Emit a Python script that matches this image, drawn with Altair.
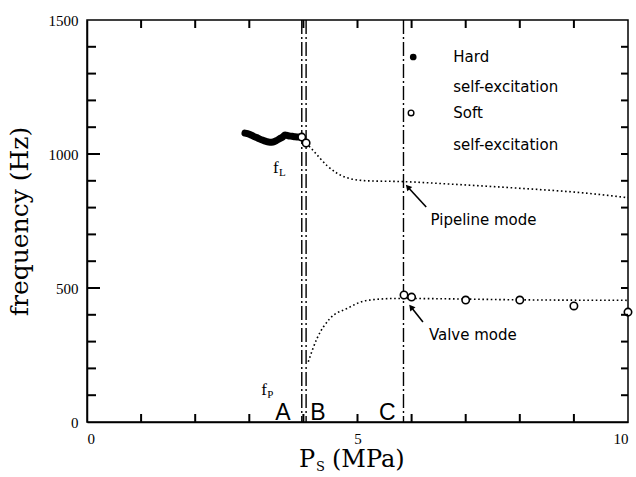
import altair as alt
import pandas as pd

# ---- data ----
hard_x = [2.92, 3.00, 3.08, 3.16, 3.24, 3.31, 3.38, 3.44, 3.50, 3.56, 3.62, 3.66, 3.72, 3.79, 3.85, 3.92]
hard_y = [1078, 1074, 1066, 1059, 1052, 1047, 1044, 1045, 1050, 1057, 1064, 1071, 1068, 1066, 1064, 1063]

soft_x = [3.97, 4.05, 5.86, 6.0, 7.0, 8.0, 9.0, 10.0]
soft_y = [1063, 1041, 474, 466, 455, 455, 433, 410]

pipe_x = [4.05, 4.18, 4.44, 4.81, 5.18, 5.85, 6.69, 7.93, 9.17, 10.0]
pipe_y = [1041, 1013, 956, 911, 900, 897, 888, 873, 855, 837]

valve_x = [4.09, 4.25, 4.49, 4.81, 5.18, 5.73, 6.5, 7.93, 10.0]
valve_y = [225, 311, 386, 424, 454, 461, 460, 456, 454]

boundary_x = [3.97, 4.05, 5.85]

x_ticks = [1.0, 2.0, 3.0, 4.0, 5.0, 6.0, 7.0, 8.0, 9.0]
y_minor = [100.0, 200.0, 300.0, 400.0, 600.0, 700.0, 800.0, 900.0, 1100.0, 1200.0, 1300.0, 1400.0]
y_major = [500.0, 1000.0]

W, H = 541, 402

xs = alt.Scale(domain=[0, 10], nice=False, zero=False)
ys = alt.Scale(domain=[0, 1500], nice=False, zero=False)

hard = pd.DataFrame({"x": hard_x, "y": hard_y})
soft = pd.DataFrame({"x": soft_x, "y": soft_y})
pipe = pd.DataFrame({"x": pipe_x, "y": pipe_y})
valve = pd.DataFrame({"x": valve_x, "y": valve_y})
bnd = pd.DataFrame({"x": boundary_x})

X = lambda: alt.X("x:Q", scale=xs)
Y = lambda: alt.Y("y:Q", scale=ys)

base_axes = alt.Chart(pd.DataFrame({"x": [0, 10], "y": [0, 1500]})).mark_point(opacity=0).encode(
    x=alt.X("x:Q", scale=xs, title=None,
            axis=alt.Axis(values=[0, 5, 10], format="d", ticks=False, tickSize=0, labelPadding=9,
                          labelFont="Liberation Serif", labelFontSize=15, labelColor="black",
                          domainColor="black", domainWidth=1.5, grid=False)),
    y=alt.Y("y:Q", scale=ys, title="frequency (Hz)",
            axis=alt.Axis(values=[0, 500, 1000, 1500], format="d", ticks=False, tickSize=0, labelPadding=9,
                          labelFont="Liberation Serif", labelFontSize=15, labelColor="black",
                          domainColor="black", domainWidth=1.5, grid=False,
                          titleFont="DejaVu Serif", titleFontSize=25, titleFontWeight="normal",
                          titleColor="black", titleX=-55, titleY=H / 2, titleBaseline="bottom")),
)

# inward ticks: segments built from the tick values, lengths converted from pixels
px_x = 10.0 / W
px_y = 1500.0 / H
rows = []
for v in x_ticks:
    rows.append({"tx": v, "tx2": v, "ty": 0.0, "ty2": 8 * px_y})
    rows.append({"tx": v, "tx2": v, "ty": 1500.0, "ty2": 1500 - 8 * px_y})
for v in y_minor:
    rows.append({"tx": 0.0, "tx2": 9 * px_x, "ty": v, "ty2": v})
    rows.append({"tx": 10.0, "tx2": 10 - 7 * px_x, "ty": v, "ty2": v})
for v in y_major:
    rows.append({"tx": 0.0, "tx2": 13 * px_x, "ty": v, "ty2": v})
    rows.append({"tx": 10.0, "tx2": 10 - 7 * px_x, "ty": v, "ty2": v})
ticks = alt.Chart(pd.DataFrame(rows)).mark_rule(color="black", strokeWidth=2).encode(
    x=alt.X("tx:Q", scale=xs), y=alt.Y("ty:Q", scale=ys), x2="tx2:Q", y2="ty2:Q")

# boundaries
bounds = alt.Chart(bnd).mark_rule(color="black", strokeWidth=1.4, strokeDash=[14, 3, 2, 3]).encode(x=X())

# curves
pipe_line = alt.Chart(pipe).mark_line(color="black", strokeWidth=1.6, strokeDash=[1.6, 2.6],
                                      interpolate="monotone").encode(x=X(), y=Y())
valve_line = alt.Chart(valve).mark_line(color="black", strokeWidth=1.6, strokeDash=[1.6, 2.6],
                                        interpolate="monotone").encode(x=X(), y=Y())
hard_line = alt.Chart(hard).mark_line(color="black", strokeWidth=7, strokeCap="round",
                                      interpolate="monotone").encode(x=X(), y=Y())
soft_pts = alt.Chart(soft).mark_point(shape="circle", filled=True, fill="white", stroke="black",
                                      strokeWidth=1.6, size=55, opacity=1).encode(x=X(), y=Y())

# legend (inside plot)
leg_hard = alt.Chart(pd.DataFrame({"x": [6.03], "y": [1362]})).mark_point(
    shape="circle", filled=True, color="black", size=45, opacity=1).encode(x=X(), y=Y())
leg_soft = alt.Chart(pd.DataFrame({"x": [5.99], "y": [1153]})).mark_point(
    shape="circle", filled=True, fill="white", stroke="black", strokeWidth=1.4, size=32, opacity=1).encode(x=X(), y=Y())

ann = pd.DataFrame({
    "x": [6.77, 6.77, 6.77, 6.77, 6.35, 6.32],
    "y": [1362, 1250, 1153, 1034, 754, 325],
    "t": ["Hard", "self-excitation", "Soft", "self-excitation", "Pipeline mode", "Valve mode"],
})
ann_text = alt.Chart(ann).mark_text(align="left", baseline="middle", font="DejaVu Sans",
                                    fontSize=15, color="black").encode(x=X(), y=Y(), text="t:N")

abc = pd.DataFrame({"x": [3.62, 4.27, 5.55], "y": [0, 0, 0], "t": ["A", "B", "C"]})
abc_text = alt.Chart(abc).mark_text(align="center", baseline="alphabetic", font="Liberation Sans",
                                    fontSize=23, color="black", dy=-2).encode(x=X(), y=Y(), text="t:N")

sub_main = pd.DataFrame({"x": [3.44, 3.22], "y": [930, 100], "t": ["f", "f"]})
sub_small = pd.DataFrame({"x": [3.44, 3.22], "y": [930, 100], "t": ["L", "P"]})
f_text = alt.Chart(sub_main).mark_text(align="left", baseline="alphabetic", font="Liberation Serif",
                                       fontSize=17, color="black").encode(x=X(), y=Y(), text="t:N")
f_sub = alt.Chart(sub_small).mark_text(align="left", baseline="alphabetic", font="Liberation Serif",
                                       fontSize=11, color="black", dx=6, dy=3).encode(x=X(), y=Y(), text="t:N")

# arrows
arr = pd.DataFrame({"x": [6.27, 6.21], "y": [802, 373], "x2": [5.93, 5.99], "y2": [877, 429],
                    "ang": [318, 321]})
arr_lines = alt.Chart(arr).mark_rule(color="black", strokeWidth=1.6).encode(
    x=X(), y=Y(), x2="x2:Q", y2="y2:Q")
arr_heads = alt.Chart(arr).mark_point(shape="triangle-up", filled=True, color="black", size=45,
                                      opacity=1).encode(
    x=alt.X("x2:Q", scale=xs), y=alt.Y("y2:Q", scale=ys), angle=alt.Angle("ang:Q", scale=None))

# x title with subscript (pixel-placed text)
xt = alt.Chart(pd.DataFrame({"t": ["P"]})).mark_text(align="left", baseline="alphabetic",
                                                     font="DejaVu Serif", fontSize=24, color="black").encode(
    x=alt.value(212), y=alt.value(447), text="t:N")
xs_sub = alt.Chart(pd.DataFrame({"t": ["S"]})).mark_text(align="left", baseline="alphabetic",
                                                         font="DejaVu Serif", fontSize=13, color="black").encode(
    x=alt.value(229), y=alt.value(451), text="t:N")
xt2 = alt.Chart(pd.DataFrame({"t": ["(MPa)"]})).mark_text(align="left", baseline="alphabetic",
                                                          font="DejaVu Serif", fontSize=24, color="black").encode(
    x=alt.value(245), y=alt.value(447), text="t:N")

chart = alt.layer(
    base_axes, bounds,
    pipe_line, valve_line, hard_line, soft_pts, leg_hard, leg_soft,
    ann_text, abc_text, f_text, f_sub, arr_lines, arr_heads, xt, xs_sub, xt2, ticks,
).properties(
    width=W, height=H,
    autosize=alt.AutoSizeParams(type="none"),
    padding={"left": 87, "top": 20, "right": 8, "bottom": 55},
    background="white",
).configure_view(stroke="black", strokeWidth=1.5)

chart.save("out.html", embed_options={"renderer": "svg", "actions": False})
